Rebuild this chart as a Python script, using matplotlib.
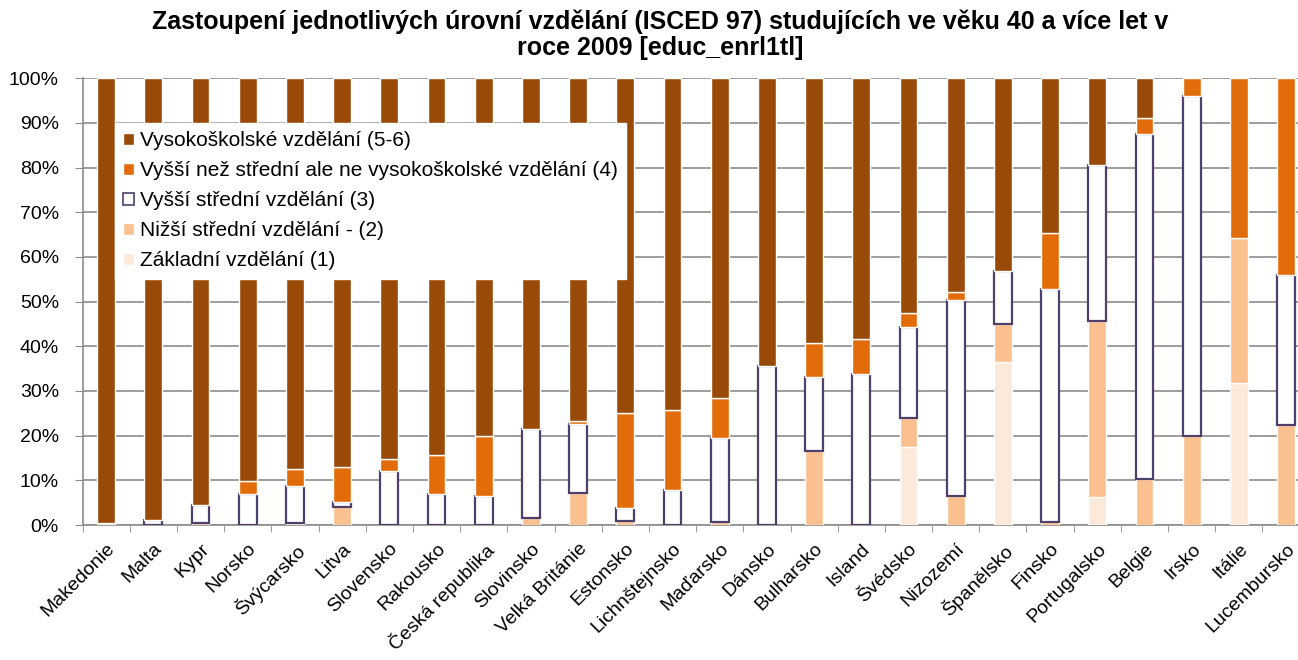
import numpy as np
import matplotlib.pyplot as plt
from matplotlib.patches import Patch

plt.rcParams['font.family'] = ['Liberation Sans', 'DejaVu Sans']

countries = ["Makedonie", "Malta", "Kypr", "Norsko", "Švýcarsko", "Litva", "Slovensko",
             "Rakousko", "Česká republika", "Slovinsko", "Velká Británie", "Estonsko",
             "Lichnštejnsko", "Maďarsko", "Dánsko", "Bulharsko", "Island", "Švédsko",
             "Nizozemí", "Španělsko", "Finsko", "Portugalsko", "Belgie", "Irsko",
             "Itálie", "Lucembursko"]

# shares in % (ISCED levels)
lvl1 = [0.4, 0, 0, 0, 0.4, 0, 0, 0, 0, 0, 0, 0,
        0, 0, 0, 0, 0, 17.5, 0, 36.6, 0, 6.3, 0, 0, 31.7, 0]
lvl2 = [0, 0, 0.5, 0, 0, 4.1, 0, 0, 0, 1.6, 7.2, 1.0,
        0, 0.7, 0, 16.6, 0, 6.5, 6.5, 8.4, 0.6, 39.4, 10.4, 20.0, 32.6, 22.4]
lvl3 = [0, 1.2, 4.0, 6.9, 8.4, 1.0, 12.0, 6.9, 6.5, 19.9, 15.3, 2.9,
        7.8, 18.7, 35.6, 16.6, 33.8, 20.3, 43.9, 11.9, 52.2, 34.9, 77.1, 76.0, 0, 33.6]
lvl4 = [0, 0, 0, 3.0, 3.8, 7.9, 2.8, 8.7, 13.4, 0, 0.8, 21.1,
        17.9, 9.1, 0, 7.6, 7.8, 3.1, 1.8, 0, 12.5, 0, 3.7, 4.0, 35.7, 44.0]

lvl5 = [100 - a - b - c - d for a, b, c, d in zip(lvl1, lvl2, lvl3, lvl4)]

labels = ["Vysokoškolské vzdělání (5-6)",
          "Vyšší než střední ale ne vysokoškolské vzdělání (4)",
          "Vyšší střední vzdělání (3)",
          "Nižší střední vzdělání - (2)",
          "Základní vzdělání (1)"]

c1, c2, c4, c5 = "#fde9d9", "#fac08f", "#e36c0a", "#994a08"
edge3 = "#4f3f6b"
grid_c = "#8c8c8c"

fig = plt.figure(figsize=(12.98, 6.6), dpi=100)
# plot area runs past the right edge, as in the reference
ax = fig.add_axes([82.5 / 1298, 1 - 525 / 660, 26 * 47.2 / 1298, (525 - 78.3) / 660])

x = np.arange(len(countries))
w = 0.375
bottom = np.zeros(len(countries))
series = [(lvl1, c1, "white", 1.0), (lvl2, c2, "white", 1.0), (lvl3, "white", edge3, 1.6),
          (lvl4, c4, "white", 1.0), (lvl5, c5, "white", 1.0)]
for vals, fc, ec, lw in series:
    v = np.array(vals)
    mask = v > 0
    ax.bar(x[mask], v[mask], w, bottom=bottom[mask], color=fc, edgecolor=ec,
           linewidth=lw, zorder=3)
    bottom += v

ax.set_xlim(-0.5, len(countries) - 0.5)
ax.set_ylim(0, 100)
ax.set_yticks(np.arange(0, 101, 10))
ax.set_yticklabels([f"{v}%" for v in range(0, 101, 10)], fontsize=14)
ax.yaxis.grid(True, color=grid_c, linewidth=1.2, zorder=0)
ax.set_axisbelow(True)

ax.set_xticks(x)
ax.set_xticklabels(countries, rotation=45, ha="right", rotation_mode="anchor", fontsize=14)
ax.tick_params(axis="x", which="major", length=0, pad=11)
ax.set_xticks(np.arange(-0.5, len(countries) + 0.5, 1), minor=True)
ax.tick_params(axis="x", which="minor", length=5, color=grid_c)
ax.tick_params(axis="y", length=6, color=grid_c, pad=11)

for s in ["top", "right"]:
    ax.spines[s].set_visible(False)
for s in ["left", "bottom"]:
    ax.spines[s].set_color(grid_c)
    ax.spines[s].set_linewidth(1.2)

handles = [Patch(facecolor=c5, edgecolor="white"),
           Patch(facecolor=c4, edgecolor="white"),
           Patch(facecolor="white", edgecolor=edge3, linewidth=1.2),
           Patch(facecolor=c2, edgecolor="white"),
           Patch(facecolor=c1, edgecolor="white")]
leg = fig.legend(handles, labels, loc="upper left", bbox_to_anchor=(115 / 1298, 1 - 123 / 660),
                 fontsize=15, frameon=True, fancybox=False, handlelength=0.5, handleheight=0.5,
                 handletextpad=0.3, labelspacing=0.53, borderpad=0.4, borderaxespad=0)
leg.get_frame().set_edgecolor("white")
leg.get_frame().set_facecolor("white")
leg.get_frame().set_alpha(1)
leg.set_zorder(10)

fig.suptitle("Zastoupení jednotlivých úrovní vzdělání (ISCED 97) studujících ve věku 40 a více let v\n"
             "roce 2009 [educ_enrl1tl]", fontsize=18, fontweight="bold", x=660 / 1298, y=0.985,
             linespacing=1.1)

fig.savefig("out.png", dpi=100)
